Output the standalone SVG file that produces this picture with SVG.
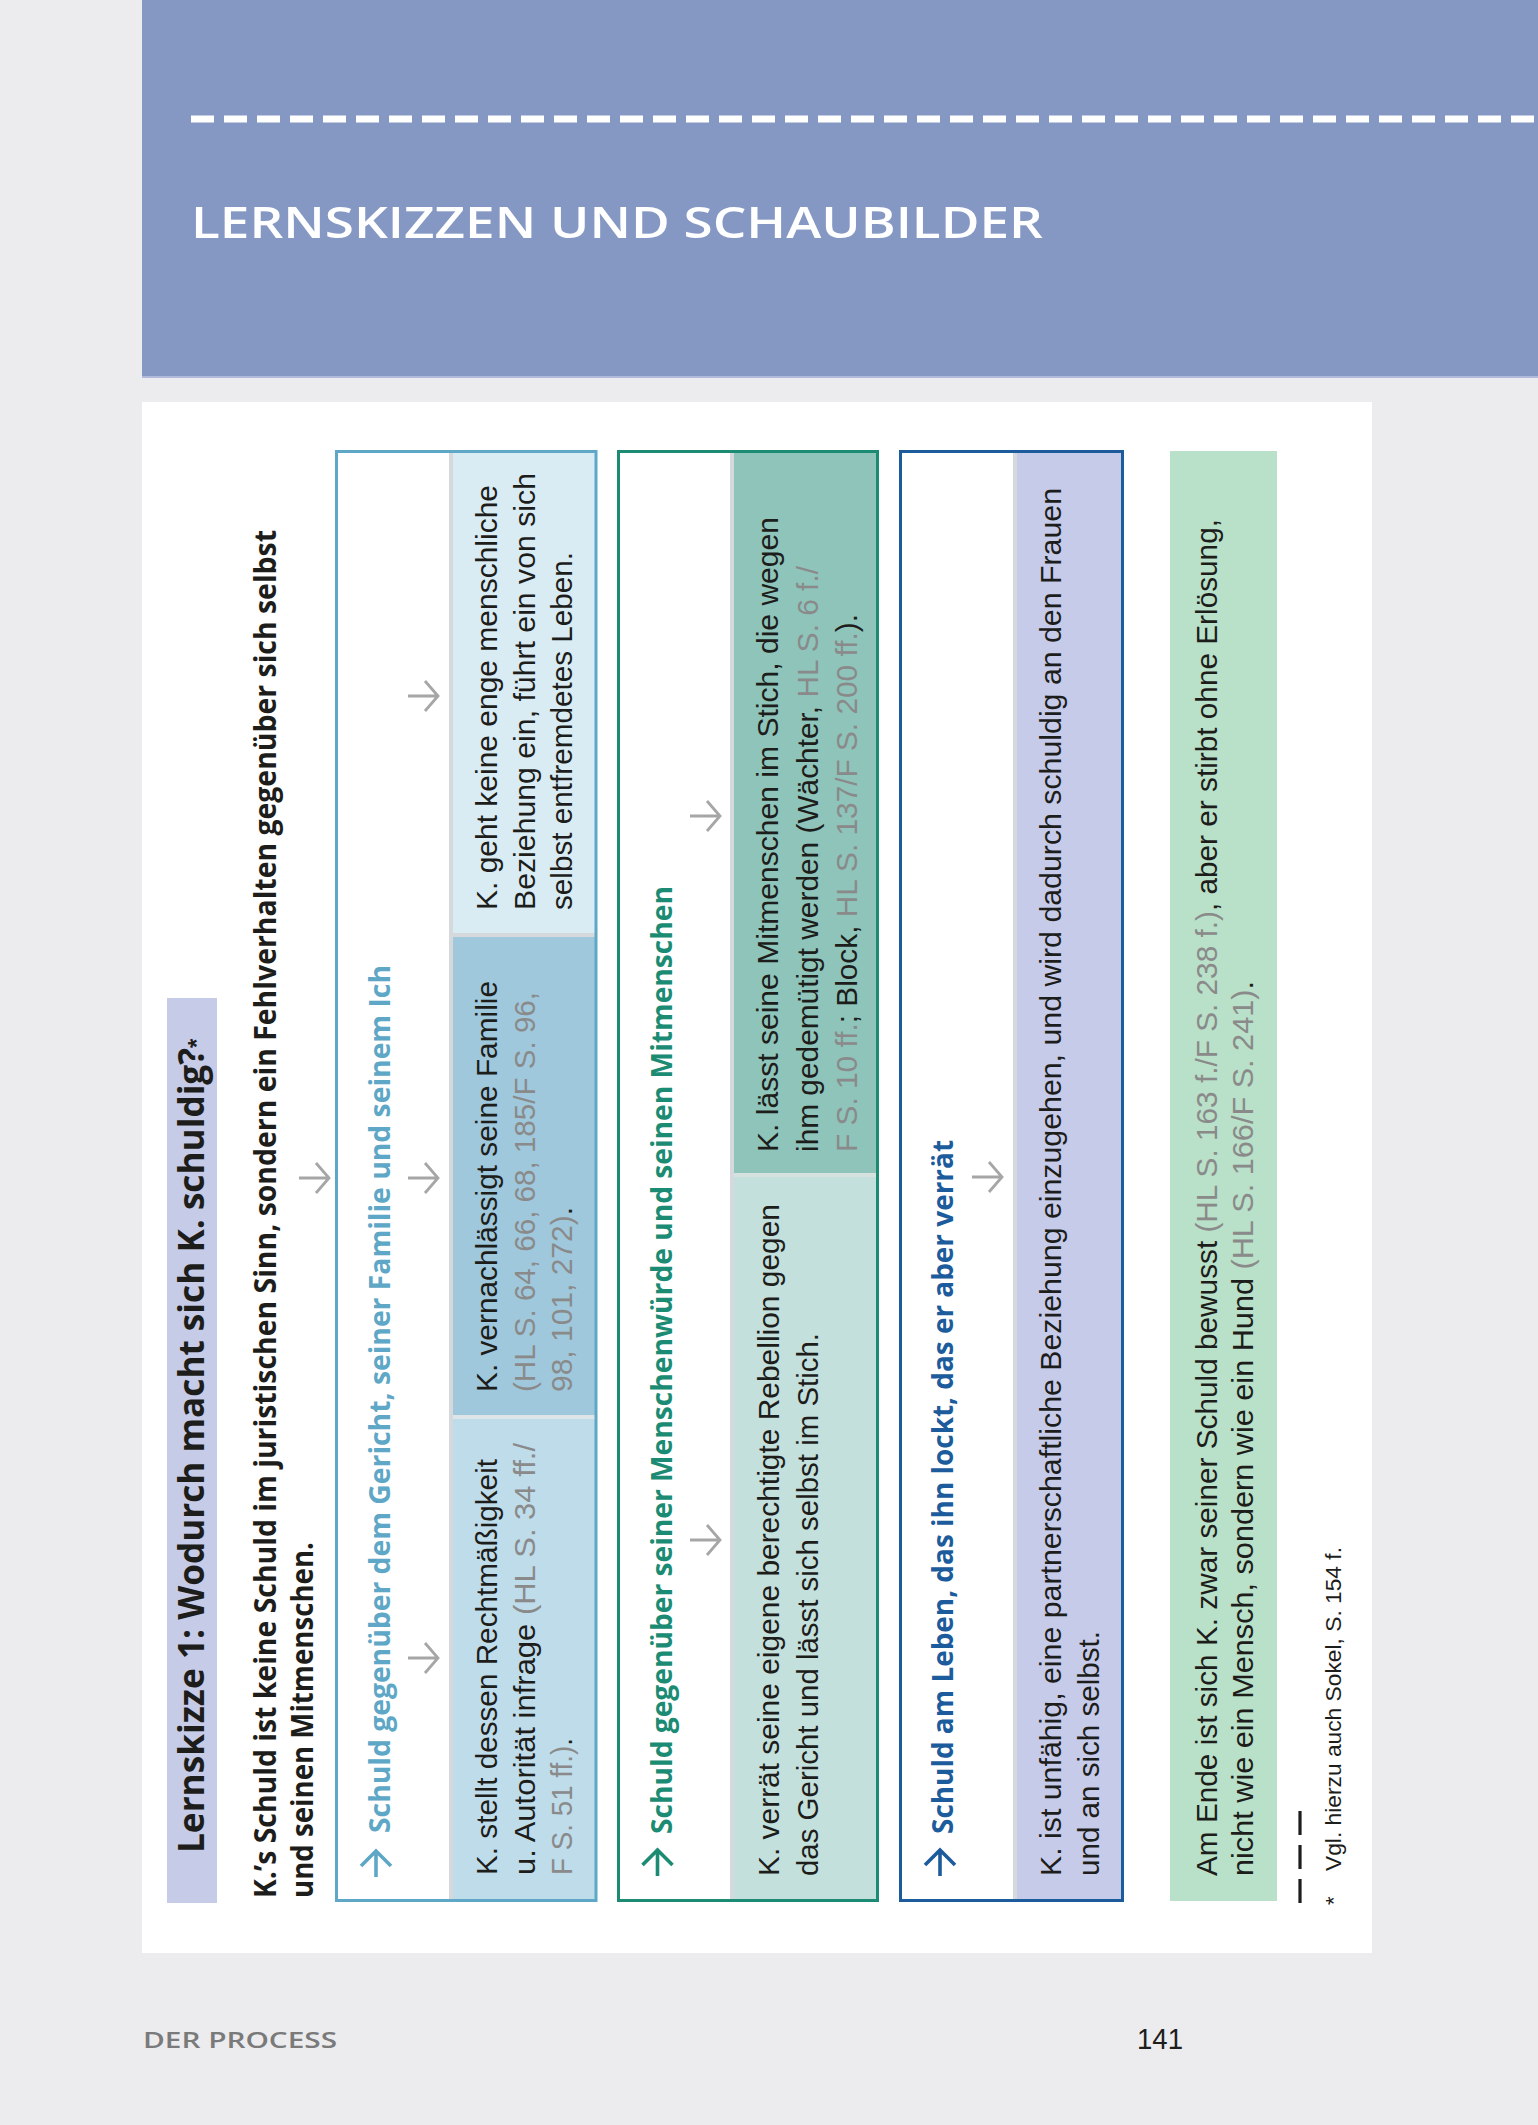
<svg xmlns="http://www.w3.org/2000/svg" width="1538" height="2125" viewBox="0 0 1538 2125">
<style>
text{font-family:"Liberation Sans",Arial,sans-serif;}
.b{font-size:30px;fill:#1d1d1b;}
.r{fill:#8a8a8a;}
.k{fill:#1d1d1b;}
.h{font-family:"Open Sans","Liberation Sans",Arial,sans-serif;font-size:28px;font-weight:700;}
.sb{font-family:"Open Sans","Liberation Sans",Arial,sans-serif;font-weight:600;}
.bd{font-family:"Open Sans","Liberation Sans",Arial,sans-serif;font-weight:700;}
.ga{fill:none;stroke:#a6a6a6;stroke-width:2.8;}
.ha{fill:none;stroke-width:3.6;}
.sep{fill:#d6d9db;}
</style>
<rect x="0" y="0" width="1538" height="2125" fill="#ececee"/>
<g id="page-header">
<rect x="142" y="0" width="1396" height="376" fill="#8598c4"/>
<rect x="142" y="376" width="1396" height="2" fill="#b0badb"/>
<line x1="191" y1="119" x2="1538" y2="119" stroke="#ffffff" stroke-width="7" stroke-dasharray="23 10"/>
<text class="sb" x="191" y="238" font-size="44" fill="#ffffff" textLength="852" lengthAdjust="spacingAndGlyphs">LERNSKIZZEN UND SCHAUBILDER</text>
</g>
<rect id="panel" x="142" y="402" width="1230" height="1551" fill="#ffffff"/>
<g id="title">
<rect x="167" y="998" width="50" height="905" fill="#c6cbe7"/>
<text class="bd" transform="translate(204,1853) rotate(-90)" font-size="35" fill="#1d1d1b" textLength="805" lengthAdjust="spacingAndGlyphs">Lernskizze 1: Wodurch macht sich K. schuldig?</text>
<text transform="translate(205,1048) rotate(-90)" font-size="24" font-weight="bold" fill="#1d1d1b">*</text>
</g>
<g id="intro">
<text class="bd" transform="translate(276,1898) rotate(-90)" font-size="30" fill="#1d1d1b" textLength="1368" lengthAdjust="spacingAndGlyphs">K.’s Schuld ist keine Schuld im juristischen Sinn, sondern ein Fehlverhalten gegenüber sich selbst</text>
<text class="bd" transform="translate(313,1898) rotate(-90)" font-size="30" fill="#1d1d1b" textLength="356" lengthAdjust="spacingAndGlyphs">und seinen Mitmenschen.</text>
</g>
<g id="box1">
<rect x="337" y="452" width="112" height="1448" fill="#ffffff"/>
<rect class="sep" x="449" y="452" width="4" height="1448"/>
<rect x="453" y="452" width="142" height="481" fill="#d9ecf4"/>
<rect class="sep" x="453" y="933" width="142" height="4"/>
<rect x="453" y="937" width="142" height="478" fill="#9fc8dc"/>
<rect x="453" y="1415" width="142" height="4" fill="#dde5e9"/>
<rect x="453" y="1419" width="142" height="481" fill="#bedcea"/>
<rect x="336.5" y="451.5" width="259.5" height="1449" fill="none" stroke="#5ea7c6" stroke-width="3"/>
<text class="h" transform="translate(390,1833) rotate(-90)" fill="#5ea7c6" textLength="868" lengthAdjust="spacingAndGlyphs">Schuld gegenüber dem Gericht, seiner Familie und seinem Ich</text>
<g id="box1-cell1">
<text class="b" transform="translate(497,1875) rotate(-90)" textLength="416" lengthAdjust="spacingAndGlyphs">K. stellt dessen Rechtmäßigkeit</text>
<text class="b" transform="translate(535,1875) rotate(-90)" textLength="432" lengthAdjust="spacingAndGlyphs">u. Autorität infrage <tspan class="r">(HL S. 34 ff./</tspan></text>
<text class="b" transform="translate(572,1875) rotate(-90)" textLength="137" lengthAdjust="spacingAndGlyphs"><tspan class="r">F S. 51 ff.)</tspan>.</text>
</g>
<g id="box1-cell2">
<text class="b" transform="translate(497,1392) rotate(-90)" textLength="411" lengthAdjust="spacingAndGlyphs">K. vernachlässigt seine Familie</text>
<text class="b r" transform="translate(535,1392) rotate(-90)" textLength="400" lengthAdjust="spacingAndGlyphs">(HL S. 64, 66, 68, 185/F S. 96,</text>
<text class="b" transform="translate(572,1392) rotate(-90)" textLength="185" lengthAdjust="spacingAndGlyphs"><tspan class="r">98, 101, 272)</tspan>.</text>
</g>
<g id="box1-cell3">
<text class="b" transform="translate(497,910) rotate(-90)" textLength="425" lengthAdjust="spacingAndGlyphs">K. geht keine enge menschliche</text>
<text class="b" transform="translate(535,910) rotate(-90)" textLength="437" lengthAdjust="spacingAndGlyphs">Beziehung ein, führt ein von sich</text>
<text class="b" transform="translate(572,910) rotate(-90)" textLength="358" lengthAdjust="spacingAndGlyphs">selbst entfremdetes Leben.</text>
</g>
</g>
<g id="box2">
<rect x="619" y="452" width="111" height="1448" fill="#ffffff"/>
<rect class="sep" x="730" y="452" width="4" height="1448"/>
<rect x="734" y="452" width="142" height="721" fill="#8ec4ba"/>
<rect x="734" y="1173" width="142" height="4" fill="#d5e2df"/>
<rect x="734" y="1177" width="142" height="723" fill="#c4e0dc"/>
<rect x="618.5" y="451.5" width="259" height="1449" fill="none" stroke="#1b8c73" stroke-width="3"/>
<text class="h" transform="translate(672,1834) rotate(-90)" fill="#1b8c73" textLength="948" lengthAdjust="spacingAndGlyphs">Schuld gegenüber seiner Menschenwürde und seinen Mitmenschen</text>
<g id="box2-cell1">
<text class="b" transform="translate(779,1876) rotate(-90)" textLength="672" lengthAdjust="spacingAndGlyphs">K. verrät seine eigene berechtigte Rebellion gegen</text>
<text class="b" transform="translate(818,1876) rotate(-90)" textLength="543" lengthAdjust="spacingAndGlyphs">das Gericht und lässt sich selbst im Stich.</text>
</g>
<g id="box2-cell2">
<text class="b" transform="translate(778,1152) rotate(-90)" textLength="635" lengthAdjust="spacingAndGlyphs">K. lässt seine Mitmenschen im Stich, die wegen</text>
<text class="b" transform="translate(818,1152) rotate(-90)" textLength="586" lengthAdjust="spacingAndGlyphs">ihm gedemütigt werden (Wächter, <tspan class="r">HL S. 6 f./</tspan></text>
<text class="b" transform="translate(857,1152) rotate(-90)" textLength="538" lengthAdjust="spacingAndGlyphs"><tspan class="r">F S. 10 ff.</tspan>; Block, <tspan class="r">HL S. 137/F S. 200 ff.</tspan>).</text>
</g>
</g>
<g id="box3">
<rect x="901" y="452" width="112" height="1448" fill="#ffffff"/>
<rect class="sep" x="1013" y="452" width="4" height="1448"/>
<rect x="1017" y="452" width="104" height="1448" fill="#c5cbe9"/>
<rect x="900.5" y="451.5" width="222" height="1449" fill="none" stroke="#1d5c9c" stroke-width="3"/>
<text class="h" transform="translate(953,1834) rotate(-90)" fill="#1d5c9c" textLength="694" lengthAdjust="spacingAndGlyphs">Schuld am Leben, das ihn lockt, das er aber verrät</text>
<g id="box3-cell">
<text class="b" transform="translate(1061,1876) rotate(-90)" textLength="1388" lengthAdjust="spacingAndGlyphs">K. ist unfähig, eine partnerschaftliche Beziehung einzugehen, und wird dadurch schuldig an den Frauen</text>
<text class="b" transform="translate(1099,1876) rotate(-90)" textLength="245" lengthAdjust="spacingAndGlyphs">und an sich selbst.</text>
</g>
</g>
<g id="summary">
<rect x="1170" y="451" width="107" height="1450" fill="#b9e0c8"/>
<text class="b" transform="translate(1217,1876) rotate(-90)" textLength="1357" lengthAdjust="spacingAndGlyphs">Am Ende ist sich K. zwar seiner Schuld bewusst <tspan class="r">(HL S. 163 f./F S. 238 f.)</tspan>, aber er stirbt ohne Erlösung,</text>
<text class="b" transform="translate(1253,1876) rotate(-90)" textLength="895" lengthAdjust="spacingAndGlyphs">nicht wie ein Mensch, sondern wie ein Hund <tspan class="r">(HL S. 166/F S. 241)</tspan>.</text>
</g>
<g id="footnote">
<line x1="1300" y1="1903" x2="1300" y2="1808" stroke="#1d1d1b" stroke-width="3.2" stroke-dasharray="24 10"/>
<text transform="translate(1341,1905) rotate(-90)" font-size="22" fill="#1d1d1b">*</text>
<text transform="translate(1341,1871) rotate(-90)" font-size="22" fill="#1d1d1b" textLength="324" lengthAdjust="spacingAndGlyphs">Vgl. hierzu auch Sokel, S. 154 f.</text>
</g>
<g id="connectors">
<path class="ga" d="M299 1178 H329 M316 1163 L329 1178 L316 1193"/>
<path class="ga" d="M408 1178 H438 M425 1163 L438 1178 L425 1193"/>
<path class="ga" d="M408 1658 H438 M425 1643 L438 1658 L425 1673"/>
<path class="ga" d="M408 696 H438 M425 681 L438 696 L425 711"/>
<path class="ga" d="M690 1540 H720 M707 1525 L720 1540 L707 1555"/>
<path class="ga" d="M690 816 H720 M707 801 L720 816 L707 831"/>
<path class="ga" d="M972 1177 H1002 M989 1162 L1002 1177 L989 1192"/>
<path class="ha" stroke="#5ea7c6" d="M376 1877 V1851 M361 1866 L376 1851 L391 1866"/>
<path class="ha" stroke="#1b8c73" d="M657.5 1876 V1850 M642.5 1865 L657.5 1850 L672.5 1865"/>
<path class="ha" stroke="#1d5c9c" d="M940 1876 V1850 M925 1865 L940 1850 L955 1865"/>
</g>
<g id="page-footer">
<text class="sb" x="143" y="2048" font-size="21" fill="#7a7a7a" textLength="194" lengthAdjust="spacingAndGlyphs">DER PROCESS</text>
<text x="1137" y="2049" font-size="29" fill="#1d1d1b" textLength="46" lengthAdjust="spacingAndGlyphs">141</text>
</g>
</svg>
